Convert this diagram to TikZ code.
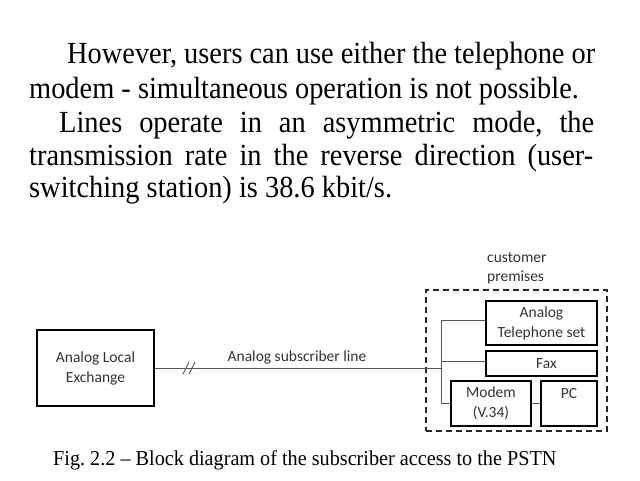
\documentclass[tikz,border=0pt]{standalone}
\usepackage{fontspec}
\setmainfont{Liberation Serif}
\newfontfamily\diagfont{Carlito}
\usetikzlibrary{calc}
\frenchspacing
\definecolor{labelgray}{HTML}{333333}
\definecolor{linegray}{HTML}{555555}
\newcommand{\tall}[1]{\scalebox{1}[1.08]{#1}}
\tikzset{
  para/.style={anchor=base west, inner sep=0pt, font=\fontsize{28.4}{33.5}\selectfont},
  capt/.style={anchor=base west, inner sep=0pt, font=\fontsize{20.2}{24}\selectfont},
  blk/.style={draw=black, line width=1.5pt, rectangle, inner sep=0pt, align=center,
    text=labelgray, font=\diagfont\fontsize{15.5}{20}\selectfont},
  premises/.style={draw=black!85, line width=1.6pt, dash pattern=on 6pt off 4pt, rectangle, inner sep=0pt},
  wire/.style={draw=linegray, line width=0.9pt},
  lbl/.style={text=labelgray, inner sep=0pt, font=\diagfont\fontsize{15.5}{19}\selectfont},
}
\begin{document}
\begin{tikzpicture}[x=1pt,y=-1pt]
\useasboundingbox (0,0) rectangle (640,480);
% paragraph text
\node[para] (l1) at (67,63) {\tall{\makebox[528pt][s]{However, users can use either the telephone or}}};
\node[para] (l2) at (29,98) {\tall{modem - simultaneous operation is not possible.}};
\node[para] (l3) at (59,132) {\tall{\makebox[535pt][s]{Lines operate in an asymmetric mode, the}}};
\node[para] (l4) at (29,165) {\tall{\makebox[564pt][s]{transmission rate in the reverse direction (user-}}};
\node[para] (l5) at (29,197) {\tall{switching station) is 38.6 kbit/s.}};
% diagram
\node[blk, minimum width=117pt, minimum height=76pt] (exch) at (95.5,368) {Analog Local\\Exchange};
\node[premises, minimum width=181pt, minimum height=141pt] (cp) at (516.5,360.5) {};
\node[blk, minimum width=111pt, minimum height=44pt] (tel) at (541.5,323) {Analog\\Telephone set};
\node[blk, minimum width=111pt, minimum height=25pt] (fax) at (541.5,363.5) {\hspace*{10pt}Fax};
\node[blk, minimum width=80pt, minimum height=45pt] (modem) at (491,403.5) {Modem\\(V.34)};
\node[blk, minimum width=56pt, minimum height=45pt] (pc) at (569,403.5) {PC\\\mbox{}};
\node[lbl, align=left, anchor=west] (cust) at (487,268.5) {customer\\premises};
\node[lbl] (asl) at (297,357) {Analog subscriber line};
% wiring
\coordinate (bm) at (441,368);
\coordinate (b1) at (441,320);
\coordinate (b2) at (441,361);
\coordinate (b3) at (441,403);
\coordinate (sl) at (189,368);
\draw[wire] (exch.east |- bm) -- (bm);
\draw[wire] (b1) -- (b3);
\draw[wire] (b1) -- (b1 -| tel.west);
\draw[wire] (b2) -- (b2 -| fax.west);
\draw[wire] (b3) -- (b3 -| modem.west);
\draw[wire] (modem.east |- b3) -- (b3 -| pc.west);
\draw[wire] ($(sl)+(-6,6)$) -- ($(sl)+(0,-6)$);
\draw[wire] ($(sl)+(0,6)$) -- ($(sl)+(6,-6)$);
% caption
\node[capt] (cap) at (53,465) {\scalebox{1}[1.05]{Fig. 2.2 -- Block diagram of the subscriber access to the PSTN}};
\end{tikzpicture}
\end{document}
